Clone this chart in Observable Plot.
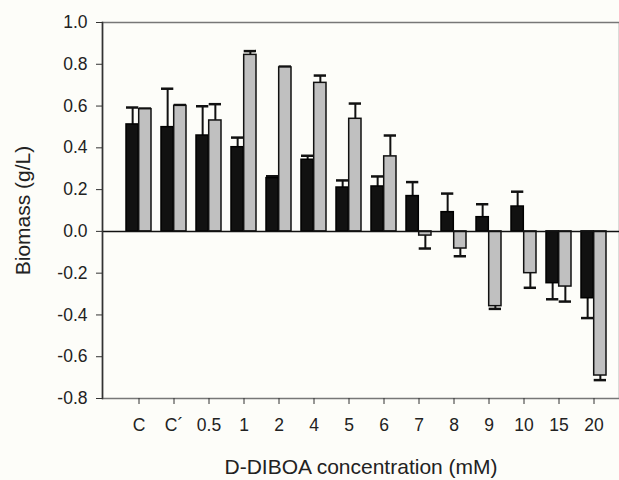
<!DOCTYPE html>
<html>
<head>
<meta charset="utf-8">
<script src="https://cdn.jsdelivr.net/npm/d3@7"></script>
<script src="https://cdn.jsdelivr.net/npm/@observablehq/plot@0.6"></script>
<style>
  html, body { margin: 0; padding: 0; background: #fdfdf9; overflow: hidden; }
</style>
</head>
<body>
<div id="chart"></div>
<script>
const categories = ["C", "C\u00B4", "0.5", "1", "2", "4", "5", "6", "7", "8", "9", "10", "15", "20"];
const blackMean = [0.512, 0.499, 0.459, 0.403, 0.255, 0.343, 0.210, 0.215, 0.169, 0.092, 0.068, 0.119, -0.248, -0.320];
const blackErr  = [0.081, 0.184, 0.140, 0.046, 0.009, 0.019, 0.034, 0.048, 0.067, 0.089, 0.062, 0.071, 0.077, 0.095];
const grayMean  = [0.585, 0.601, 0.531, 0.845, 0.785, 0.711, 0.539, 0.359, -0.020, -0.082, -0.358, -0.200, -0.264, -0.690];
const grayErr   = [0.003, 0.004, 0.078, 0.018, 0.004, 0.035, 0.073, 0.100, 0.062, 0.037, 0.013, 0.070, 0.072, 0.022];
const yTicks = [-0.8, -0.6, -0.4, -0.2, 0.0, 0.2, 0.4, 0.6, 0.8, 1.0];

const blackData = categories.map((c, i) => ({cat: c, v: blackMean[i], e: blackMean[i] + Math.sign(blackMean[i]) * blackErr[i]}));
const grayData = categories.map((c, i) => ({cat: c, v: grayMean[i], e: grayMean[i] + Math.sign(grayMean[i]) * grayErr[i]}));

const x0 = 102, x1 = 630, pIn = 0.28, pOut = 0.624;
const step = (x1 - x0) / (categories.length - pIn + 2 * pOut);
const bw = step * (1 - pIn);
const half = bw / 2;

const plot = Plot.plot({
  width: 619,
  height: 480,
  marginTop: 22,
  marginBottom: 82,
  marginLeft: 102,
  marginRight: 0,
  style: {background: "#fdfdf9", fontFamily: "Liberation Sans, Arial, sans-serif", fontSize: "17.5px", color: "#222"},
  x: {type: "band", domain: categories, range: [x0, x1], paddingInner: pIn, paddingOuter: pOut},
  y: {domain: [-0.8, 1.0], range: [398, 22]},
  marks: [
    Plot.frame({stroke: "#777", strokeWidth: 1.5}),
    Plot.ruleX(blackData, {x: "cat", y1: "v", y2: "e", dx: -half / 2, stroke: "#111", strokeWidth: 2}),
    Plot.tickY(blackData, {x: "cat", y: "e", insetRight: half, stroke: "#111", strokeWidth: 2.5}),
    Plot.ruleX(grayData, {x: "cat", y1: "v", y2: "e", dx: half / 2, stroke: "#111", strokeWidth: 2}),
    Plot.tickY(grayData, {x: "cat", y: "e", insetLeft: half, stroke: "#111", strokeWidth: 2.5}),
    Plot.barY(blackData, {x: "cat", y1: 0, y2: "v", insetRight: half, fill: "#111", stroke: "#000", strokeWidth: 1.5}),
    Plot.barY(grayData, {x: "cat", y1: 0, y2: "v", insetLeft: half, fill: "#c0c0c0", stroke: "#111", strokeWidth: 1.5}),
    Plot.ruleY([0], {stroke: "#111", strokeWidth: 1.5}),
    Plot.axisY({ticks: yTicks, tickFormat: d => d.toFixed(1), tickSize: 6, tickPadding: 9, label: null, fontSize: 17.5, stroke: "#333"}),
    Plot.axisX({tickSize: 6, tickPadding: 14, label: null, fontSize: 17.5, stroke: "#333"}),
    Plot.frame({anchor: "left", stroke: "#333", strokeWidth: 1.5}),
    Plot.text(["D-DIBOA concentration (mM)"], {text: d => d, frameAnchor: "bottom", dy: 69, textAnchor: "middle", lineAnchor: "middle", fontSize: 21, fill: "#222"}),
    Plot.text(["Biomass (g/L)"], {text: d => d, frameAnchor: "left", rotate: -90, dx: -79, textAnchor: "middle", lineAnchor: "middle", fontSize: 21, fill: "#222"})
  ]
});
document.getElementById("chart").appendChild(plot);
</script>
</body>
</html>
